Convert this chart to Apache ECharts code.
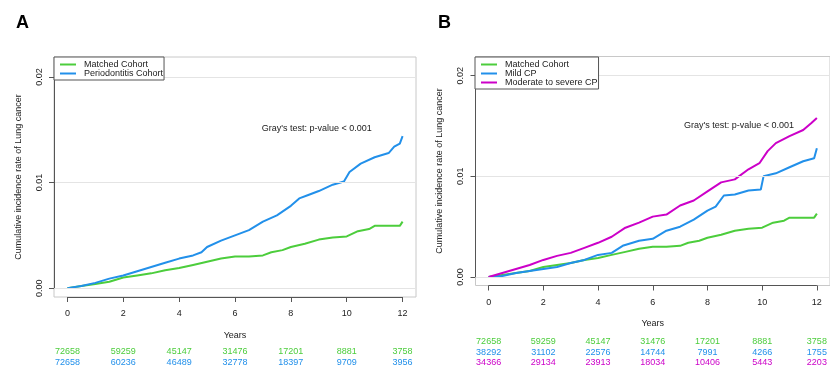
<!DOCTYPE html>
<html>
<head>
<meta charset="utf-8">
<script src="https://cdn.jsdelivr.net/npm/echarts@6/dist/echarts.min.js"></script>
<style>
  html, body { margin: 0; padding: 0; background: #fff; }
  #chart { width: 830px; height: 369px; }
</style>
</head>
<body>
<div id="chart"></div>
<script>
// axis ticks
const xTicks = [0, 2, 4, 6, 8, 10, 12]
const yTicks = [0, 0.01, 0.02]

// panel A curves [years, cumulative incidence]
const aMatched = [[0, 0], [0.5, 0.0002], [1, 0.0004], [1.5, 0.0006], [2, 0.001], [2.5, 0.0012], [3, 0.0014], [3.5, 0.0017],
  [4, 0.0019], [4.5, 0.0022], [5, 0.0025], [5.5, 0.0028], [6, 0.003], [6.5, 0.003], [7, 0.0031], [7.3, 0.0034],
  [7.7, 0.0036], [8, 0.0039], [8.5, 0.0042], [9, 0.0046], [9.5, 0.0048], [10, 0.0049], [10.4, 0.0054], [10.8, 0.0056],
  [11, 0.0059], [11.9, 0.0059], [12, 0.0063]]
const aPerio = [[0, 0], [0.5, 0.0002], [1, 0.0005], [1.5, 0.0009], [2, 0.0012], [2.5, 0.0016], [3, 0.002], [3.5, 0.0024],
  [4, 0.0028], [4.5, 0.0031], [4.8, 0.0034], [5, 0.0039], [5.5, 0.0045], [6, 0.005], [6.5, 0.0055], [7, 0.0063],
  [7.5, 0.0069], [8, 0.0078], [8.3, 0.0085], [8.6, 0.0088], [9, 0.0092], [9.5, 0.0098], [9.9, 0.0101], [10.1, 0.011],
  [10.5, 0.0118], [11, 0.0124], [11.5, 0.0128], [11.7, 0.0134], [11.9, 0.0137], [12, 0.0144]]

// panel B curves
const bMatched = aMatched
const bMild = [[0, 0], [0.5, 0.0001], [1, 0.0004], [1.5, 0.0006], [2, 0.0008], [2.5, 0.001], [3, 0.0014], [3.5, 0.0017],
  [4, 0.0022], [4.5, 0.0024], [4.9, 0.0031], [5.5, 0.0036], [6, 0.0038], [6.5, 0.0046], [7, 0.005], [7.5, 0.0057],
  [8, 0.0066], [8.3, 0.007], [8.6, 0.0081], [9, 0.0082], [9.5, 0.0086], [9.95, 0.0087], [10.05, 0.01], [10.5, 0.0103],
  [11, 0.0109], [11.5, 0.0115], [11.9, 0.0118], [12, 0.0128]]
const bSevere = [[0, 0], [0.5, 0.0004], [1, 0.0008], [1.5, 0.0012], [2, 0.0017], [2.5, 0.0021], [3, 0.0024], [3.5, 0.0029],
  [4, 0.0034], [4.5, 0.004], [5, 0.0049], [5.5, 0.0054], [6, 0.006], [6.5, 0.0062], [7, 0.0071], [7.5, 0.0076],
  [8, 0.0085], [8.5, 0.0094], [9, 0.0097], [9.5, 0.0107], [9.9, 0.0113], [10.2, 0.0125], [10.5, 0.0133], [11, 0.014],
  [11.5, 0.0146], [11.8, 0.0153], [12, 0.0158]]

// numbers at risk
const riskAMatched = [72658, 59259, 45147, 31476, 17201, 8881, 3758]
const riskAPerio = [72658, 60236, 46489, 32778, 18397, 9709, 3956]
const riskBMatched = [72658, 59259, 45147, 31476, 17201, 8881, 3758]
const riskBMild = [38292, 31102, 22576, 14744, 7991, 4266, 1755]
const riskBSevere = [34366, 29134, 23913, 18034, 10406, 5443, 2203]

const GREEN = '#4ccd3c'
const BLUE = '#2290ea'
const MAGENTA = '#cc00c8'
const FONT = 'Liberation Sans'
const X_MIN = -0.48
const X_MAX = 12.48
const Y_MIN = -0.00084
const Y_MAX = 0.0219

const chart = echarts.init(document.getElementById('chart'))

function mainX(grid, margin, gap) {
  return {
    type: 'value', gridIndex: grid, min: X_MIN, max: X_MAX,
    name: 'Years', nameLocation: 'middle', nameGap: gap,
    nameTextStyle: { fontFamily: FONT, fontSize: 9, color: '#222' },
    axisLine: { show: false, onZero: false },
    axisTick: { show: true, length: 5, customValues: xTicks, lineStyle: { color: '#555' } },
    axisLabel: { customValues: xTicks, margin: margin, fontFamily: FONT, fontSize: 9, color: '#222' },
    splitLine: { show: false }
  }
}

function riskX(grid, offset, counts, color) {
  return {
    type: 'value', gridIndex: grid, min: X_MIN, max: X_MAX, position: 'bottom', offset: offset,
    axisLine: { show: false, onZero: false }, axisTick: { show: false }, splitLine: { show: false },
    axisLabel: {
      customValues: xTicks, margin: 8, fontFamily: FONT, fontSize: 9, color: color,
      formatter: v => String(counts[xTicks.indexOf(v)])
    }
  }
}

function mainY(grid) {
  return {
    type: 'value', gridIndex: grid, min: Y_MIN, max: Y_MAX,
    name: 'Cumulative incidence rate of Lung cancer', nameLocation: 'middle', nameGap: 31,
    nameTextStyle: { fontFamily: FONT, fontSize: 9, color: '#222' },
    axisLine: { show: false, onZero: false },
    axisTick: { show: true, length: 5, customValues: yTicks, lineStyle: { color: '#555' } },
    axisLabel: { customValues: yTicks, rotate: 90, margin: 10, fontFamily: FONT, fontSize: 9, color: '#222',
      formatter: v => v.toFixed(2) },
    splitLine: { show: false }
  }
}

// gridlines and the R-style axis segments, drawn from the tick arrays
function guides(xi) {
  const lo = xTicks[0], hi = xTicks[xTicks.length - 1]
  return {
    silent: true, symbol: 'none', label: { show: false }, animation: false,
    data: yTicks.map(v => ({ yAxis: v, lineStyle: { color: '#e4e4e4', width: 1, type: 'solid' } })).concat([
      [{ coord: [lo, Y_MIN], lineStyle: { color: '#555', width: 1, type: 'solid' } }, { coord: [hi, Y_MIN] }],
      [{ coord: [X_MIN, yTicks[0]], lineStyle: { color: '#555', width: 1, type: 'solid' } }, { coord: [X_MIN, yTicks[yTicks.length - 1]] }]
    ])
  }
}

function curve(name, data, color, xi, yi, withGuides) {
  const s = {
    name: name, type: 'line', xAxisIndex: xi, yAxisIndex: yi, data: data,
    showSymbol: false, symbol: 'none', clip: false, animation: false,
    lineStyle: { color: color, width: 2 }, itemStyle: { color: color }
  }
  if (withGuides) s.markLine = guides(xi)
  return s
}

const legendBase = {
  orient: 'vertical', itemGap: 0, itemWidth: 16, itemHeight: 2, icon: 'rect', z: 10,
  backgroundColor: '#fff', borderColor: '#555', borderWidth: 1, borderRadius: 0, padding: [3, 1, 2, 6],
  textStyle: { fontFamily: FONT, fontSize: 9, lineHeight: 9, color: '#222', padding: [0, 0, 0, 3] },
  selectedMode: false
}

chart.setOption({
  animation: false,
  title: [
    { text: 'A', left: 11, top: 9, textStyle: { fontFamily: FONT, fontSize: 18, fontWeight: 'bold', color: '#000' } },
    { text: 'B', left: 433, top: 9, textStyle: { fontFamily: FONT, fontSize: 18, fontWeight: 'bold', color: '#000' } }
  ],
  legend: [
    Object.assign({}, legendBase, { left: 54, top: 57, data: ['Matched Cohort', 'Periodontitis Cohort'] }),
    Object.assign({}, legendBase, { left: 475, top: 57, data: ['Matched Cohort', 'Mild CP', 'Moderate to severe CP'] })
  ],
  grid: [
    { left: 54, top: 57, width: 362, height: 240, show: true, borderColor: '#c8c8c8', borderWidth: 1, backgroundColor: 'transparent' },
    { left: 475.5, top: 56.5, width: 364, height: 229, show: true, borderColor: '#c8c8c8', borderWidth: 1, backgroundColor: 'transparent' }
  ],
  xAxis: [
    mainX(0, 12, 34),
    mainX(1, 13, 34),
    riskX(0, 42.5, riskAMatched, GREEN),
    riskX(0, 53.5, riskAPerio, BLUE),
    riskX(1, 44, riskBMatched, GREEN),
    riskX(1, 54.2, riskBMild, BLUE),
    riskX(1, 64.5, riskBSevere, MAGENTA)
  ],
  yAxis: [mainY(0), mainY(1)],
  series: [
    curve('Matched Cohort', aMatched, GREEN, 0, 0, true),
    curve('Periodontitis Cohort', aPerio, BLUE, 0, 0, false),
    curve('Matched Cohort', bMatched, GREEN, 1, 1, true),
    curve('Mild CP', bMild, BLUE, 1, 1, false),
    curve('Moderate to severe CP', bSevere, MAGENTA, 1, 1, false)
  ],
  graphic: [
    { type: 'text', x: 316.7, y: 129, style: { text: "Gray's test: p-value < 0.001", align: 'center', verticalAlign: 'middle', fontFamily: FONT, fontSize: 9, fill: '#222' } },
    { type: 'text', x: 739, y: 125.3, style: { text: "Gray's test: p-value < 0.001", align: 'center', verticalAlign: 'middle', fontFamily: FONT, fontSize: 9, fill: '#222' } }
  ]
})
</script>
</body>
</html>
